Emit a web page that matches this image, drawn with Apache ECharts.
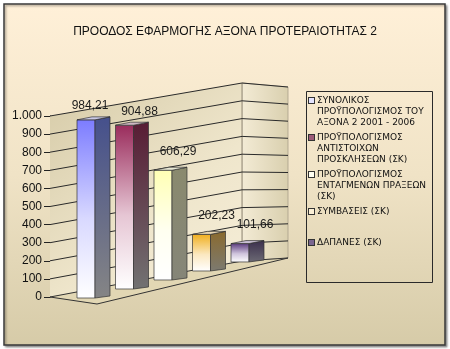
<!DOCTYPE html>
<html>
<head>
<meta charset="utf-8">
<script src="https://cdn.jsdelivr.net/npm/echarts@6/dist/echarts.min.js"></script>
<style>html,body{margin:0;padding:0;background:#fff}#c{width:450px;height:349px}</style>
</head>
<body>
<div id="c"></div>
<script>
var titleText = 'ΠΡΟΟΔΟΣ ΕΦΑΡΜΟΓΗΣ ΑΞΟΝΑ ΠΡΟΤΕΡΑΙΟΤΗΤΑΣ 2';
var seriesNames = [
  'ΣΥΝΟΛΙΚΟΣ\nΠΡΟΫΠΟΛΟΓΙΣΜΟΣ ΤΟΥ\nΑΞΟΝΑ 2 2001 - 2006',
  'ΠΡΟΫΠΟΛΟΓΙΣΜΟΣ\nΑΝΤΙΣΤΟΙΧΩΝ\nΠΡΟΣΚΛΗΣΕΩΝ (ΣΚ)',
  'ΠΡΟΫΠΟΛΟΓΙΣΜΟΣ\nΕΝΤΑΓΜΕΝΩΝ ΠΡΑΞΕΩΝ\n(ΣΚ)',
  'ΣΥΜΒΑΣΕΙΣ (ΣΚ)',
  'ΔΑΠΑΝΕΣ (ΣΚ)'
];
var seriesValues = [984.21, 904.88, 606.29, 202.23, 101.66];
var yTicks = [0, 100, 200, 300, 400, 500, 600, 700, 800, 900, 1000];

var frontTop = ['#7c7cff', '#9a2c5c', '#ffffb4', '#f0ae1c', '#5a3a7c'];
var frontMid = ['#d8d8ff', '#e6c6d4', '#fffff0', '#fbe8c0', '#cfc4dc'];
var sideTop  = ['#45508c', '#581c34', '#8a8a6e', '#8a6a2e', '#3a2e4c'];
var sideBot  = ['#858585', '#727272', '#858578', '#7c7a70', '#6c6a74'];
var topFace  = ['#c9c9e6', '#cdb6c2', '#e8e8d4', '#e6d6b4', '#c8bfd2'];
var keyFill  = ['#e4e4ff', '#9c5a78', '#fffff2', '#fbf0d6', '#7a6690'];
var legendTops = [95, 132, 169, 206, 237];

var chart = echarts.init(document.getElementById('c'));
var G = echarts.graphic;

function fmtVal(v) { return v.toFixed(2).replace('.', ','); }
function fmtTick(v) { return v >= 1000 ? (Math.floor(v / 1000) + '.' + String(v % 1000).padStart(3, '0')) : String(v); }

function wallsRender(params, api) {
  var L0 = api.coord([0, 0]), R0 = api.coord([1, 0]);
  var w = R0[0] - L0[0];
  var cx = L0[0] + 0.807 * w, rx = R0[0];
  function yl(v) { return api.coord([0, v])[1]; }
  function riseC(v) { return 36 - 3 * v / 1000; }
  function riseR(v) { return 39 - 10 * v / 1000; }
  var ch = [];
  ch.push({type: 'polygon', shape: {points: [[L0[0], yl(0)], [cx, yl(0) - riseC(0)], [cx, yl(1000) - riseC(1000)], [L0[0], yl(1000)]]},
    style: {fill: new G.LinearGradient(0, 0, 1, 1, [{offset: 0, color: '#d6cba8'}, {offset: 0.6, color: '#efe6cc'}, {offset: 1, color: '#f6eed8'}]), stroke: null}});
  ch.push({type: 'polygon', shape: {points: [[cx, yl(0) - riseC(0)], [rx, yl(0) - riseR(0)], [rx, yl(1000) - riseR(1000)], [cx, yl(1000) - riseC(1000)]]},
    style: {fill: new G.LinearGradient(0, 0, 1, 0, [{offset: 0, color: '#f3ebd5'}, {offset: 1, color: '#d9cfae'}]), stroke: '#a8a08a', lineWidth: 0.8}});
  ch.push({type: 'polygon', shape: {points: [[L0[0], yl(0)], [L0[0] + 47, yl(0) + 7], [rx, yl(0) - riseR(0)], [cx, yl(0) - riseC(0)]]},
    style: {fill: '#e2d7b4', stroke: '#333', lineWidth: 1}});
  ch.push({type: 'line', shape: {x1: cx, y1: yl(0) - riseC(0), x2: cx, y2: yl(1000) - riseC(1000)}, style: {stroke: '#9a927c', lineWidth: 0.8}});
  for (var k = 1; k < yTicks.length; k++) {
    var v = yTicks[k];
    ch.push({type: 'polyline', shape: {points: [[L0[0], yl(v)], [cx, yl(v) - riseC(v)], [rx, yl(v) - riseR(v)]]},
      style: {stroke: '#2a2a2a', lineWidth: 1, fill: null}});
  }
  return {type: 'group', children: ch};
}

function barRender(params, api) {
  var si = params.seriesIndex - 1;
  var i = api.value(0), v = api.value(1);
  var b = api.coord([i, 0]), t = api.coord([i, v]);
  var x0 = api.coord([0, 0])[0];
  var shift = -0.234 * (b[0] - x0);
  var yb = b[1] + 1 + shift, yt = t[1] + 1 + shift;
  var xl = b[0] - 17, xm = b[0] + 1, xr = b[0] + 16;
  var ch = [];
  ch.push({type: 'polygon', shape: {points: [[xl, yt], [xm, yt], [xm, yb], [xl, yb]]},
    style: {fill: new G.LinearGradient(0, 0, 0, 1, [{offset: 0, color: frontTop[si]}, {offset: 0.55, color: frontMid[si]}, {offset: 1, color: '#ffffff'}]), stroke: '#333', lineWidth: 0.7}});
  ch.push({type: 'polygon', shape: {points: [[xm, yt], [xr, yt - 3], [xr, yb - 2], [xm, yb]]},
    style: {fill: new G.LinearGradient(0, 0, 0, 1, [{offset: 0, color: sideTop[si]}, {offset: 1, color: sideBot[si]}]), stroke: '#333', lineWidth: 0.7}});
  ch.push({type: 'polygon', shape: {points: [[xl, yt], [xm, yt], [xr, yt - 3], [xl + 15, yt - 3]]},
    style: {fill: topFace[si], stroke: '#333', lineWidth: 0.7}});
  var dx = si === 0 ? -4 : 7;
  var dy = si < 2 ? -14 : -19;
  ch.push({type: 'text', style: {text: fmtVal(v), x: b[0] + dx, y: yt + dy, align: 'center', verticalAlign: 'middle',
    font: '12px "Liberation Sans", Arial, sans-serif', fill: '#1a1a1a'}});
  return {type: 'group', children: ch};
}

var legends = seriesNames.map(function (name, idx) {
  var rich = {
    ic: {width: 5, height: 5, backgroundColor: keyFill[idx], borderColor: '#333', borderWidth: 1, lineHeight: 11},
    g: {width: 3, lineHeight: 11},
    sp: {width: 8, lineHeight: 11},
    t: {fontSize: 9, lineHeight: 11, fontFamily: '"DejaVu Sans", Verdana, sans-serif', color: '#111'}
  };
  return {
    data: [name], left: 303, top: legendTops[idx], icon: 'none', itemWidth: 1, itemHeight: 1, padding: 0,
    selectedMode: false,
    formatter: function (n) {
      return n.split('\n').map(function (line, li) {
        return (li === 0 ? '{ic|}{g|}' : '{sp|}') + '{t|' + line + '}';
      }).join('\n');
    },
    textStyle: {rich: rich, fontSize: 9, lineHeight: 11}
  };
});

var series = [{
  type: 'custom', name: '_walls', xAxisIndex: 0, yAxisIndex: 0, data: [[0, 0]], renderItem: wallsRender, silent: true, z: 1
}];
seriesNames.forEach(function (name, idx) {
  series.push({type: 'custom', name: name, xAxisIndex: 1, yAxisIndex: 1, data: [[idx, seriesValues[idx]]],
    renderItem: barRender, z: 5, itemStyle: {color: frontTop[idx]}});
});

chart.setOption({
  animation: false,
  backgroundColor: '#ffffff',
  graphic: [
    {type: 'rect', shape: {x: 4, y: 4, width: 441, height: 341}, z: -10,
      style: {fill: new G.LinearGradient(0, 0, 0, 1, [{offset: 0, color: '#fff0d8'}, {offset: 0.5, color: '#f0e3c6'}, {offset: 1, color: '#d6cba8'}]),
        stroke: '#3a3a3a', lineWidth: 1.5, shadowColor: 'rgba(0,0,0,0.35)', shadowBlur: 2, shadowOffsetX: 1.5, shadowOffsetY: 1.5}},
    {type: 'rect', shape: {x: 306.5, y: 91.5, width: 126, height: 191}, z: -5,
      style: {fill: 'rgba(0,0,0,0)', stroke: '#2a2a2a', lineWidth: 1}}
  ],
  title: {text: titleText, left: 'center', top: 21,
    textStyle: {fontSize: 12, fontWeight: 'normal', color: '#111', fontFamily: '"Liberation Sans", Arial, sans-serif'}},
  legend: legends,
  grid: [
    {left: 50, right: 162, top: 116, bottom: 52},
    {left: 74.75, right: 182.75, top: 116, bottom: 52}
  ],
  xAxis: [
    {type: 'value', gridIndex: 0, min: 0, max: 1, show: false},
    {type: 'category', gridIndex: 1, data: seriesNames, show: false}
  ],
  yAxis: [
    {type: 'value', gridIndex: 0, min: 0, max: 1000, interval: 100,
      axisLine: {show: true, lineStyle: {color: '#222', width: 1}},
      axisTick: {show: true, length: 6, lineStyle: {color: '#222'}},
      splitLine: {show: false},
      axisLabel: {formatter: fmtTick, fontSize: 12, color: '#111', margin: 8, fontFamily: '"Liberation Sans", Arial, sans-serif'}},
    {type: 'value', gridIndex: 1, min: 0, max: 1000, show: false}
  ],
  series: series
});
</script>
</body>
</html>
